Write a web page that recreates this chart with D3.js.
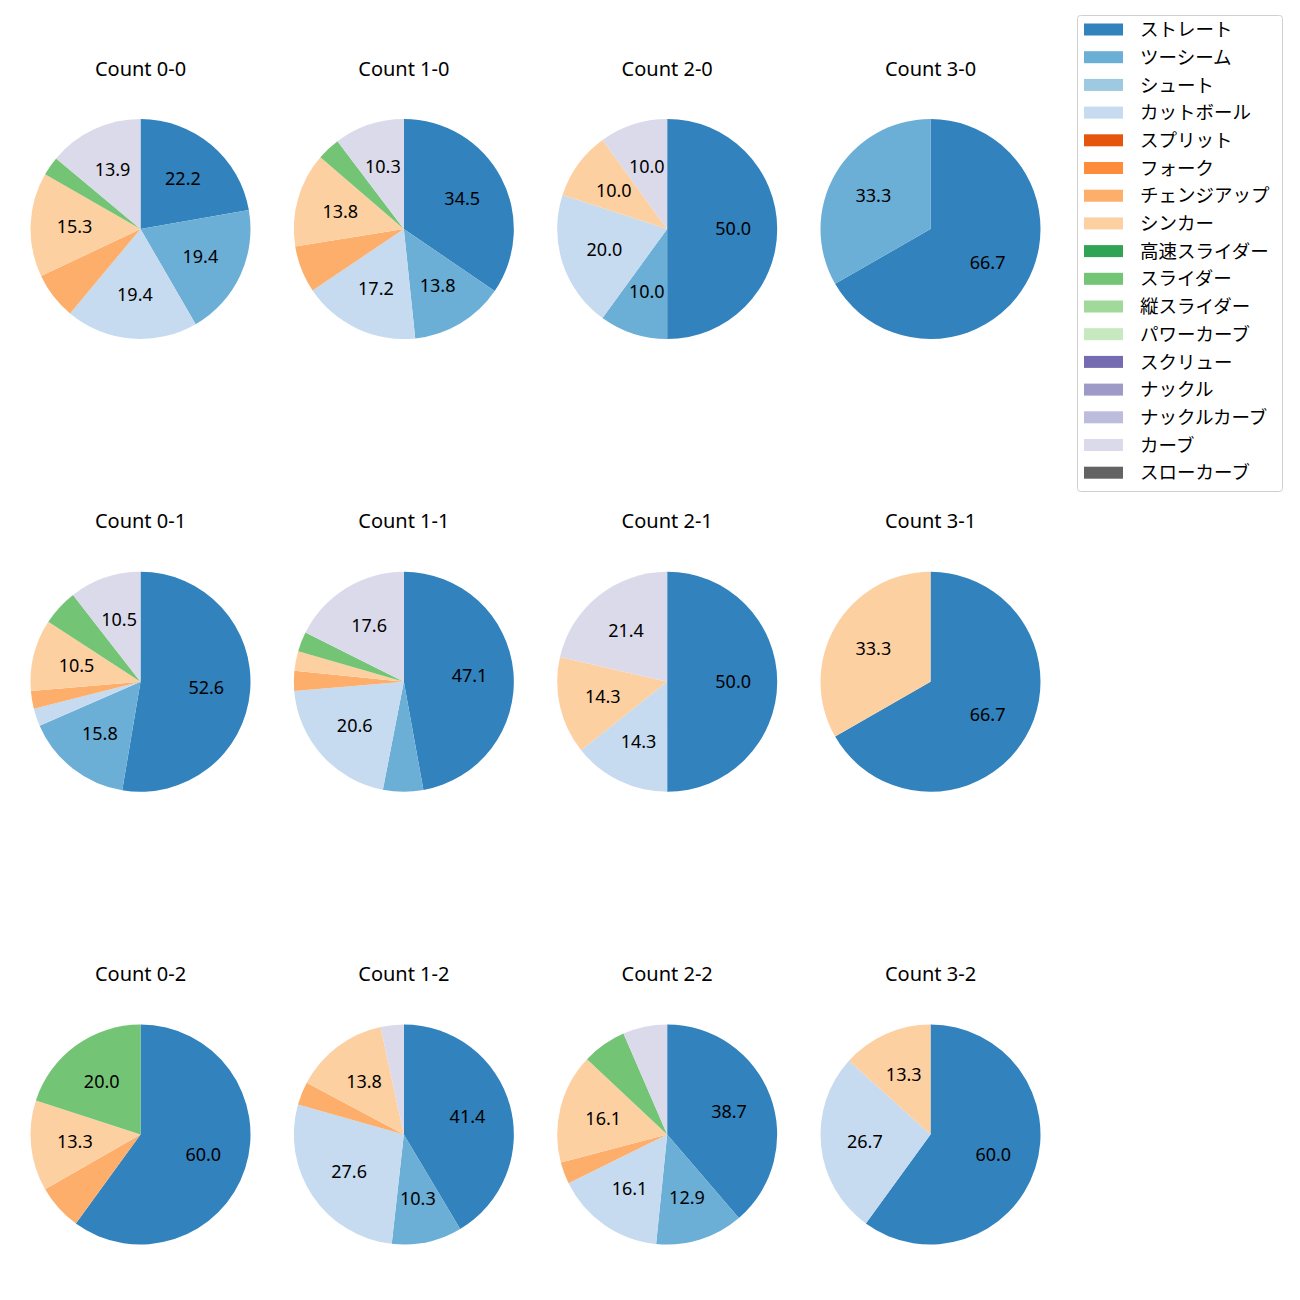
<!DOCTYPE html>
<html>
<head>
<meta charset="utf-8">
<script src="https://cdn.jsdelivr.net/npm/d3@7"></script>
<style>
  html, body { margin: 0; padding: 0; background: #ffffff; }
  svg { display: block; }
</style>
</head>
<body>
<div id="chart"></div>
<script>
// ---- Data ----
const pitchTypes = ["ストレート", "ツーシーム", "シュート", "カットボール", "スプリット", "フォーク",
  "チェンジアップ", "シンカー", "高速スライダー", "スライダー", "縦スライダー", "パワーカーブ",
  "スクリュー", "ナックル", "ナックルカーブ", "カーブ", "スローカーブ"];

const pitchColors = ["#3182bd", "#6baed6", "#9ecae1", "#c6dbef", "#e6550d", "#fd8d3c",
  "#fdae6b", "#fdd0a2", "#31a354", "#74c476", "#a1d99b", "#c7e9c0",
  "#756bb1", "#9e9ac8", "#bcbddc", "#dadaeb", "#636363"];

const countTitles = ["Count 0-0", "Count 1-0", "Count 2-0", "Count 3-0",
  "Count 0-1", "Count 1-1", "Count 2-1", "Count 3-1",
  "Count 0-2", "Count 1-2", "Count 2-2", "Count 3-2"];

// percentages, in pitchTypes order
const count00 = [22.2, 19.4, 0, 19.4, 0, 0, 6.9, 15.3, 0, 2.8, 0, 0, 0, 0, 0, 13.9, 0];
const count10 = [34.5, 13.8, 0, 17.2, 0, 0, 6.9, 13.8, 0, 3.4, 0, 0, 0, 0, 0, 10.3, 0];
const count20 = [50.0, 10.0, 0, 20.0, 0, 0, 0, 10.0, 0, 0, 0, 0, 0, 0, 0, 10.0, 0];
const count30 = [66.7, 33.3, 0, 0, 0, 0, 0, 0, 0, 0, 0, 0, 0, 0, 0, 0, 0];
const count01 = [52.6, 15.8, 0, 2.6, 0, 0, 2.6, 10.5, 0, 5.3, 0, 0, 0, 0, 0, 10.5, 0];
const count11 = [47.1, 5.9, 0, 20.6, 0, 0, 2.9, 2.9, 0, 2.9, 0, 0, 0, 0, 0, 17.6, 0];
const count21 = [50.0, 0, 0, 14.3, 0, 0, 0, 14.3, 0, 0, 0, 0, 0, 0, 0, 21.4, 0];
const count31 = [66.7, 0, 0, 0, 0, 0, 0, 33.3, 0, 0, 0, 0, 0, 0, 0, 0, 0];
const count02 = [60.0, 0, 0, 0, 0, 0, 6.7, 13.3, 0, 20.0, 0, 0, 0, 0, 0, 0, 0];
const count12 = [41.4, 10.3, 0, 27.6, 0, 0, 3.4, 13.8, 0, 0, 0, 0, 0, 0, 0, 3.4, 0];
const count22 = [38.7, 12.9, 0, 16.1, 0, 0, 3.2, 16.1, 0, 6.5, 0, 0, 0, 0, 0, 6.5, 0];
const count32 = [60.0, 0, 0, 26.7, 0, 0, 0, 13.3, 0, 0, 0, 0, 0, 0, 0, 0, 0];

const countValues = [count00, count10, count20, count30,
  count01, count11, count21, count31,
  count02, count12, count22, count32];

// ---- Layout ----
const W = 1300, H = 1300;
const FONT = "'Noto Sans', 'Noto Sans CJK JP', sans-serif";
const colX = d3.scaleLinear().domain([0, 3]).range([140.5, 930.5]);
const rowY = d3.scaleLinear().domain([0, 2]).range([229, 1134.5]);
const R = 110;

const color = d3.scaleOrdinal().domain(pitchTypes).range(pitchColors);

const svg = d3.select("#chart").append("svg")
  .attr("width", W).attr("height", H)
  .style("font-family", FONT);

const pie = d3.pie().sort(null).value(d => d.v).startAngle(0).endAngle(2 * Math.PI);
const arc = d3.arc().innerRadius(0).outerRadius(R);
const labelArc = d3.arc().innerRadius(R * 0.6).outerRadius(R * 0.6);

countValues.forEach((vals, i) => {
  const col = i % 4, row = Math.floor(i / 4);
  const g = svg.append("g")
    .attr("transform", `translate(${colX(col)},${rowY(row)})`);
  const data = pitchTypes.map((p, k) => ({ p, v: vals[k] })).filter(d => d.v > 0);
  const arcs = pie(data);
  g.selectAll("path").data(arcs).join("path")
    .attr("d", arc)
    .attr("fill", d => color(d.data.p));
  g.selectAll("text.lbl").data(arcs.filter(d => d.data.v >= 10)).join("text")
    .attr("class", "lbl")
    .attr("transform", d => `translate(${labelArc.centroid(d)})`)
    .attr("text-anchor", "middle")
    .attr("dy", "0.36em")
    .attr("font-size", 18)
    .attr("fill", "#000")
    .text(d => d.data.v.toFixed(1));
  g.append("text")
    .attr("x", 0)
    .attr("y", -153.5)
    .attr("text-anchor", "middle")
    .attr("font-size", 20)
    .attr("fill", "#000")
    .text(countTitles[i]);
});

// ---- Legend ----
const legend = svg.append("g");
legend.append("rect")
  .attr("x", 1077.5).attr("y", 15.5)
  .attr("width", 205).attr("height", 476)
  .attr("rx", 3).attr("ry", 3)
  .attr("fill", "#fff").attr("stroke", "#d0d0d0").attr("stroke-width", 1);

const legY = d3.scaleLinear().domain([0, 16]).range([29.5, 472.7]);
pitchTypes.forEach((p, k) => {
  legend.append("rect")
    .attr("x", 1084).attr("y", legY(k) - 6)
    .attr("width", 39).attr("height", 12)
    .attr("fill", color(p));
  legend.append("text")
    .attr("x", 1140).attr("y", legY(k))
    .attr("dy", "0.36em")
    .attr("font-size", 18.5)
    .attr("fill", "#000")
    .text(p);
});
</script>
</body>
</html>
